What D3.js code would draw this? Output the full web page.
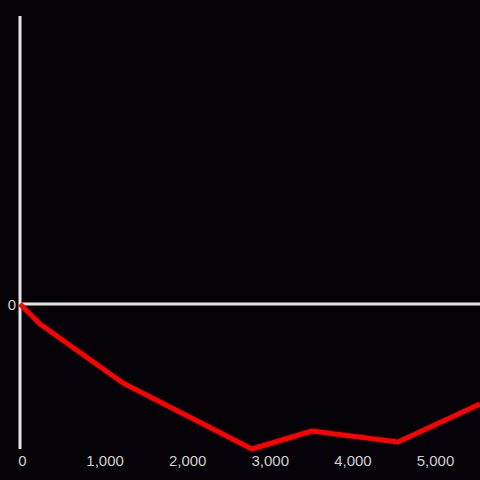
<!DOCTYPE html>
<html><head><meta charset="utf-8">
<script src="https://cdn.jsdelivr.net/npm/d3@7"></script>
<style>html,body{margin:0;padding:0;background:#050307;}svg{display:block;}</style>
</head><body>
<script>
const xValues = [0, 242, 1247, 2809, 3535, 4576, 5569];
const yValues = [0, -20, -79, -145, -127, -138, -100];
const xTicks = [0, 1000, 2000, 3000, 4000, 5000];
const yTicks = [0];

const W = 480, H = 480;
const svg = d3.select("body").append("svg").attr("width", W).attr("height", H);
svg.append("rect").attr("width", W).attr("height", H).attr("fill", "#050307");

const x = d3.scaleLinear().domain([0, 5569]).range([20, 480]);
const y = d3.scaleLinear().domain([-145, 288]).range([449, 16]);

// y axis line
svg.append("line").attr("x1", x(0)).attr("x2", x(0)).attr("y1", y(288)).attr("y2", y(-145))
  .attr("stroke", "#e6e6e6").attr("stroke-width", 3);
// zero line
svg.append("line").attr("x1", x(0)).attr("x2", x(5569)).attr("y1", y(0)).attr("y2", y(0))
  .attr("stroke", "#e6e6e6").attr("stroke-width", 3);

svg.selectAll("text.xt").data(xTicks).enter().append("text")
  .attr("class", "xt").attr("x", d => x(d) + 2.5).attr("y", 466)
  .attr("text-anchor", "middle").attr("fill", "#d0d0d0")
  .attr("font-family", "Liberation Sans, Arial, sans-serif").attr("font-size", 15)
  .text(d => d3.format(",")(d));

svg.selectAll("text.yt").data(yTicks).enter().append("text")
  .attr("class", "yt").attr("x", 16).attr("y", y(0) + 5.5)
  .attr("text-anchor", "end").attr("fill", "#d0d0d0")
  .attr("font-family", "Liberation Sans, Arial, sans-serif").attr("font-size", 15)
  .text(d => d);

const line = d3.line().x((d, i) => x(xValues[i])).y((d, i) => y(yValues[i]));
svg.append("path").datum(yValues).attr("d", line)
  .attr("fill", "none").attr("stroke", "#ff0000").attr("stroke-width", 5)
  .attr("stroke-linejoin", "round");
</script>
</body></html>
